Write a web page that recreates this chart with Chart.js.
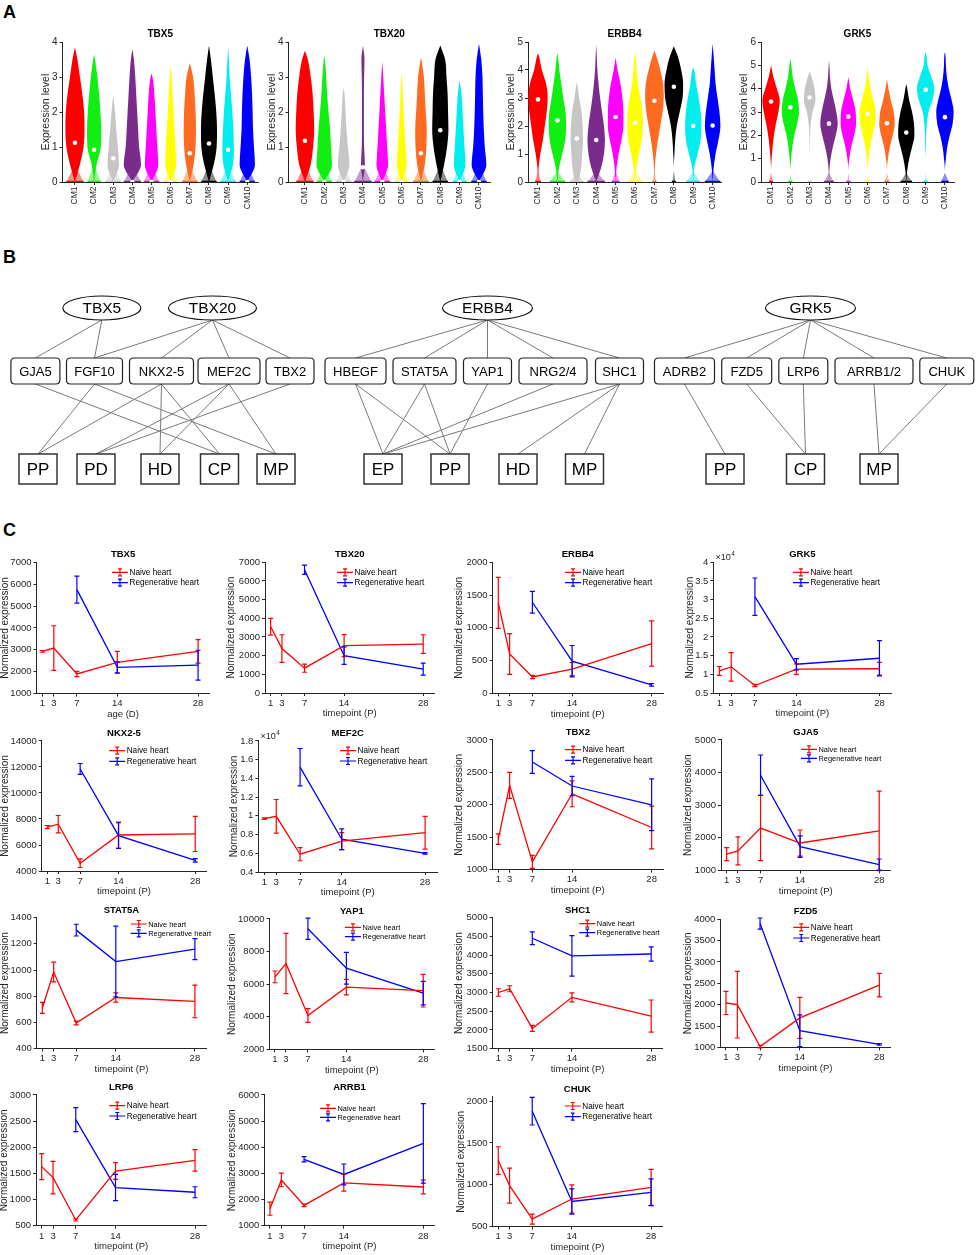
<!DOCTYPE html>
<html>
<head>
<meta charset="utf-8">
<script src="https://cdn.jsdelivr.net/npm/chart.js@4.4.1/dist/chart.umd.min.js"></script>
<style>
  body { margin: 0; background: #fff; }
  #fig { position: relative; width: 976px; height: 1255px; overflow: hidden; font-family: "Liberation Sans", Arial, sans-serif; }
  .panel { position: absolute; font-weight: bold; font-size: 18px; line-height: 18px; color: #000; }
  canvas { position: absolute; }
</style>
</head>
<body>
<div id="fig">
  <div class="panel" style="left:3px;top:3px">A</div>
  <div class="panel" style="left:3px;top:248px">B</div>
  <div class="panel" style="left:3px;top:521px">C</div>
</div>
<script>
// ---------- Panel A: violin profiles (half-width per 0.5 step of expression) ----------
const clusters = ['CM1', 'CM2', 'CM3', 'CM4', 'CM5', 'CM6', 'CM7', 'CM8', 'CM9', 'CM10'];
const violinStep = 0.5;

const tbx5Top = [3.85, 3.65, 2.5, 3.8, 3.1, 3.35, 3.4, 3.9, 3.85, 3.9];
const tbx5Median = [1.12, 0.92, 0.68, 0, 0, 0, 0.82, 1.1, 0.92, 0];
const tbx5Base = [0.45, 0.35, 0.4, 0.45, 0.4, 0.35, 0.4, 0.4, 0.4, 0.4];
const tbx5Width = [
  [0, 0.26, 0.45, 0.5, 0.48, 0.39, 0.26, 0.13],
  [0, 0.13, 0.35, 0.37, 0.33, 0.26, 0.17, 0.05],
  [0, 0.3, 0.24, 0.16, 0.09],
  [0, 0.45, 0.35, 0.3, 0.25, 0.2, 0.15, 0.08],
  [0, 0.35, 0.3, 0.25, 0.2, 0.15, 0.05],
  [0, 0.28, 0.25, 0.2, 0.15, 0.1, 0.05],
  [0, 0.2, 0.3, 0.32, 0.3, 0.25, 0.17],
  [0, 0.25, 0.4, 0.42, 0.38, 0.3, 0.2, 0.1],
  [0, 0.25, 0.3, 0.27, 0.22, 0.15, 0.08, 0.04],
  [0, 0.4, 0.35, 0.3, 0.28, 0.25, 0.2, 0.12]
];

const tbx20Top = [3.75, 3.6, 2.7, 3.9, 3.45, 3.1, 3.55, 3.9, 2.9, 3.95];
const tbx20Median = [1.18, 0, 0, 0.42, 0, 0, 0.82, 1.48, 0, 0];
const tbx20Base = [0.45, 0.4, 0.4, 0.45, 0.4, 0.35, 0.4, 0.4, 0.35, 0.4];
const tbx20Width = [
  [0, 0.3, 0.42, 0.48, 0.45, 0.4, 0.3, 0.15],
  [0, 0.4, 0.35, 0.3, 0.22, 0.15, 0.1, 0.03],
  [0, 0.3, 0.22, 0.15, 0.1, 0.05],
  [0, 0.1, 0.06, 0.05, 0.05, 0.05, 0.06, 0.08],
  [0, 0.3, 0.25, 0.2, 0.15, 0.1, 0.05],
  [0, 0.25, 0.2, 0.15, 0.1, 0.06, 0.02],
  [0, 0.2, 0.28, 0.3, 0.25, 0.2, 0.15, 0.02],
  [0, 0.2, 0.35, 0.42, 0.4, 0.38, 0.32, 0.25],
  [0, 0.3, 0.25, 0.2, 0.15, 0.1],
  [0, 0.38, 0.3, 0.25, 0.22, 0.2, 0.18, 0.12]
];

const erbb4Top = [4.6, 4.6, 3.55, 4.9, 4.45, 4.6, 4.7, 4.85, 4.1, 4.95];
const erbb4Median = [2.95, 2.2, 1.55, 1.5, 2.32, 2.12, 2.9, 3.4, 2.0, 2.02];
const erbb4Base = [0.15, 0.4, 0.35, 0.45, 0.2, 0.38, 0.1, 0.08, 0.35, 0.4];
const erbb4Width = [
  [0, 0.03, 0.12, 0.25, 0.35, 0.45, 0.5, 0.42, 0.2, 0.05],
  [0, 0.08, 0.25, 0.4, 0.45, 0.42, 0.3, 0.2, 0.1, 0.03],
  [0.1, 0.22, 0.28, 0.32, 0.3, 0.25, 0.12, 0.02],
  [0, 0.25, 0.4, 0.45, 0.4, 0.3, 0.2, 0.12, 0.06, 0.03],
  [0, 0.05, 0.15, 0.3, 0.4, 0.4, 0.35, 0.25, 0.1],
  [0, 0.07, 0.2, 0.35, 0.4, 0.38, 0.28, 0.15, 0.08, 0.03],
  [0, 0.02, 0.08, 0.18, 0.3, 0.42, 0.48, 0.45, 0.3, 0.1],
  [0, 0, 0.03, 0.07, 0.15, 0.3, 0.45, 0.48, 0.38, 0.2],
  [0, 0.05, 0.22, 0.38, 0.42, 0.38, 0.28, 0.15, 0.05],
  [0, 0.05, 0.15, 0.3, 0.4, 0.35, 0.25, 0.15, 0.1, 0.05]
];

const grk5Top = [5.0, 5.3, 4.75, 5.2, 4.5, 5.0, 4.4, 4.2, 5.55, 5.55];
const grk5Median = [3.45, 3.2, 3.62, 2.5, 2.8, 2.92, 2.52, 2.12, 3.95, 2.78];
const grk5Base = [0.1, 0.05, 0, 0.25, 0.05, 0.05, 0.12, 0.3, 0.05, 0.2];
const grk5Width = [
  [0, 0, 0.03, 0.08, 0.15, 0.25, 0.38, 0.45, 0.3, 0.12],
  [0, 0, 0.04, 0.1, 0.2, 0.35, 0.45, 0.4, 0.25, 0.12, 0.05],
  [0, 0, 0, 0.01, 0.02, 0.05, 0.15, 0.3, 0.25, 0.1],
  [0, 0.02, 0.08, 0.2, 0.35, 0.45, 0.38, 0.25, 0.12, 0.05, 0.02],
  [0, 0, 0.05, 0.15, 0.3, 0.4, 0.38, 0.25, 0.1],
  [0, 0, 0.05, 0.12, 0.25, 0.38, 0.42, 0.3, 0.15, 0.05],
  [0, 0, 0.05, 0.15, 0.3, 0.4, 0.35, 0.2, 0.08],
  [0, 0.05, 0.15, 0.3, 0.42, 0.4, 0.3, 0.15, 0.05],
  [0, 0, 0, 0.02, 0.03, 0.07, 0.15, 0.35, 0.45, 0.3, 0.1, 0.03],
  [0, 0, 0.05, 0.12, 0.25, 0.4, 0.45, 0.35, 0.2, 0.1, 0.05, 0.02]
];

// ---------- Panel B: network ----------
const regulators = ['TBX5', 'TBX20', 'ERBB4', 'GRK5'];
const targets = ['GJA5', 'FGF10', 'NKX2-5', 'MEF2C', 'TBX2', 'HBEGF', 'STAT5A', 'YAP1', 'NRG2/4', 'SHC1',
  'ADRB2', 'FZD5', 'LRP6', 'ARRB1/2', 'CHUK'];
const processes = ['PP', 'PD', 'HD', 'CP', 'MP', 'EP', 'PP', 'HD', 'MP', 'PP', 'CP', 'MP'];
// [regulator, target]
const regulatorLinks = [[0, 0], [0, 1], [1, 1], [1, 2], [1, 3], [1, 4],
  [2, 5], [2, 6], [2, 7], [2, 8], [2, 9],
  [3, 10], [3, 11], [3, 12], [3, 13], [3, 14]];
// [target, process]
const processLinks = [[0, 3], [1, 0], [1, 4], [2, 0], [2, 2], [2, 3], [3, 1], [3, 2], [3, 4], [4, 1],
  [5, 5], [5, 6], [6, 5], [6, 6], [7, 6], [8, 5], [9, 5], [9, 7], [9, 8],
  [10, 9], [11, 10], [12, 10], [13, 11], [14, 11]];

// ---------- Panel C: normalized expression (mean and error) ----------
const naiveDays = [1, 3, 7, 14, 28];
const regenDays = [7, 14, 28];
const dayTicks = [1, 3, 7, 14, 28];

const tbx5Naive = [2930, 3080, 1900, 2430, 2930];
const tbx5NaiveErr = [40, 1020, 120, 500, 540];
const tbx5Regen = [5750, 2200, 2300];
const tbx5RegenErr = [620, 250, 680];
const tbx5YTicks = [1000, 2000, 3000, 4000, 5000, 6000, 7000];

const tbx20Naive = [3550, 2380, 1330, 2540, 2620];
const tbx20NaiveErr = [450, 740, 220, 590, 500];
const tbx20Regen = [6600, 2000, 1280];
const tbx20RegenErr = [250, 470, 320];
const tbx20YTicks = [0, 1000, 2000, 3000, 4000, 5000, 6000, 7000];

const erbb4Naive = [1380, 600, 250, 370, 760];
const erbb4NaiveErr = [390, 310, 25, 100, 345];
const erbb4Regen = [1390, 490, 130];
const erbb4RegenErr = [165, 240, 20];
const erbb4YTicks = [0, 500, 1000, 1500, 2000];

const grk5Naive = [10900, 12000, 7000, 11400, 11500];
const grk5NaiveErr = [1200, 3800, 300, 1400, 1700];
const grk5Regen = [30800, 12700, 14300];
const grk5RegenErr = [5000, 1500, 4700];
const grk5YTicks = [5000, 10000, 15000, 20000, 25000, 30000, 35000, 40000];

const nkx25Naive = [7380, 7600, 4600, 6770, 6850];
const nkx25NaiveErr = [120, 670, 330, 1000, 1350];
const nkx25Regen = [11850, 6720, 4820];
const nkx25RegenErr = [420, 990, 130];
const nkx25YTicks = [4000, 6000, 8000, 10000, 12000, 14000];

const mef2cNaive = [9700, 9950, 5900, 7300, 8200];
const mef2cNaiveErr = [80, 1800, 700, 900, 1750];
const mef2cRegen = [15200, 7500, 6000];
const mef2cRegenErr = [2000, 1100, 80];
const mef2cYTicks = [4000, 6000, 8000, 10000, 12000, 14000, 16000, 18000];

const tbx2Naive = [1470, 2300, 1120, 2170, 1650];
const tbx2NaiveErr = [80, 200, 100, 200, 330];
const tbx2Regen = [2660, 2290, 2000];
const tbx2RegenErr = [175, 150, 400];
const tbx2YTicks = [1000, 1500, 2000, 2500, 3000];

const gja5Naive = [1500, 1600, 2300, 1840, 2210];
const gja5NaiveErr = [200, 430, 1000, 400, 1220];
const gja5Regen = [3920, 1730, 1180];
const gja5RegenErr = [620, 330, 170];
const gja5YTicks = [1000, 2000, 3000, 4000, 5000];

const stat5aNaive = [710, 985, 595, 790, 760];
const stat5aNaiveErr = [42, 75, 15, 35, 125];
const stat5aRegen = [1305, 1065, 1160];
const stat5aRegenErr = [45, 270, 80];
const stat5aYTicks = [400, 600, 800, 1000, 1200, 1400];

const yap1Naive = [6450, 7270, 4080, 5820, 5600];
const yap1NaiveErr = [360, 1850, 420, 480, 1000];
const yap1Regen = [9400, 6980, 5450];
const yap1RegenErr = [650, 970, 720];
const yap1YTicks = [2000, 4000, 6000, 8000, 10000];

const shc1Naive = [3000, 3100, 2040, 2870, 2370];
const shc1NaiveErr = [100, 80, 80, 120, 430];
const shc1Regen = [4450, 3980, 4030];
const shc1RegenErr = [170, 540, 190];
const shc1YTicks = [1500, 2000, 2500, 3000, 3500, 4000, 4500, 5000];

const fzd5Naive = [2040, 2000, 1020, 1690, 2460];
const fzd5NaiveErr = [270, 780, 30, 480, 275];
const fzd5Regen = [3900, 1390, 1070];
const fzd5RegenErr = [130, 370, 20];
const fzd5YTicks = [1000, 1500, 2000, 2500, 3000, 3500, 4000];

const lrp6Naive = [1630, 1420, 610, 1545, 1750];
const lrp6NaiveErr = [250, 310, 20, 160, 205];
const lrp6Regen = [2530, 1230, 1140];
const lrp6RegenErr = [230, 250, 105];
const lrp6YTicks = [500, 1000, 1500, 2000, 2500, 3000];

const arrb1Naive = [1650, 2750, 1780, 2640, 2480];
const arrb1NaiveErr = [250, 260, 50, 320, 260];
const arrb1Regen = [3540, 2960, 4150];
const arrb1RegenErr = [100, 400, 1520];
const arrb1YTicks = [1000, 2000, 3000, 4000, 5000, 6000];

const chukNaive = [1290, 990, 590, 830, 970];
const chukNaiveErr = [165, 210, 60, 170, 215];
const chukRegen = [1880, 800, 910];
const chukRegenErr = [165, 150, 160];
const chukYTicks = [500, 1000, 1500, 2000];

// ---------- styles and layout ----------
const violinColors = ['#ff0000', '#11ee11', '#c6c6c6', '#7a2c8c', '#ff00ff', '#ffff00', '#ff6a21', '#000000', '#00eeee', '#0000ff'];
const violinLight = violinColors.map(c => {
  const n = parseInt(c.slice(1), 16);
  return `rgba(${n >> 16},${(n >> 8) & 255},${n & 255},0.45)`;
});
const naiveColor = '#ff0000';
const regenColor = '#0000ff';
const axisColor = '#262626';
const FONT = '"Liberation Sans", Arial, sans-serif';

Chart.defaults.font.family = FONT;
Chart.defaults.color = axisColor;
Chart.defaults.animation = false;
Chart.defaults.events = [];
Chart.defaults.plugins.legend.display = false;
Chart.defaults.plugins.tooltip.enabled = false;

const FIG = document.getElementById('fig');

function makeCanvas(left, top, width, height) {
  const c = document.createElement('canvas');
  c.width = width;
  c.height = height;
  c.style.left = left + 'px';
  c.style.top = top + 'px';
  c.style.width = width + 'px';
  c.style.height = height + 'px';
  FIG.appendChild(c);
  return c;
}

// places a canvas so that the plot area lands on box = [left, top, right, bottom, yTitleOffset]
function frame(box, f) {
  const [l, t, r, b, yOff] = box;
  const tLH = f.titleSize * 1.2, yLH = f.yTitleSize * 1.2, xLH = f.xTitleSize * 1.2;
  const left = Math.floor(l - yOff - yLH / 2 - 2);
  const top = Math.floor(t - f.titleOff - tLH / 2 - 2);
  const right = Math.ceil(r + f.right);
  const bottom = Math.ceil(b + f.bottom);
  return {
    canvas: makeCanvas(left, top, right - left, bottom - top),
    padding: {left: 0, top: 0, right: right - r, bottom: 0},
    titlePad: {top: t - f.titleOff - tLH / 2 - top, bottom: f.titleOff - tLH / 2},
    yWidth: l - left,
    yTitlePad: {top: l - yOff - yLH / 2 - left, bottom: 0},
    xHeight: bottom - b,
    xTitlePad: {top: 0, bottom: bottom - b - f.xTitleOff - xLH / 2}
  };
}

function axisStyle(size) {
  return {
    grid: {drawOnChartArea: false, drawTicks: true, tickLength: 3, color: axisColor, lineWidth: 1},
    border: {display: true, color: axisColor, width: 1},
    ticks: {font: {size}, color: axisColor, padding: 1.5}
  };
}

// ---------- Panel A ----------
const violinFrame = {titleSize: 10, titleOff: 8, yTitleSize: 10.5, xTitleSize: 10, xTitleOff: 0, right: 14, bottom: 30};
const violinBoxes = [
  [62.5, 42, 258, 182, 16.5],
  [288.5, 42, 490, 182, 16.5],
  [528, 42, 721, 182, 16.5],
  [761, 42, 954, 182, 17]
];
const violinRanges = [[0.35, 10.56], [0.15, 10.57], [0.485, 10.43], [0.48, 10.47]];

function violinChart(idx, name, yMax, baseTop, top, width, base, median) {
  const box = violinBoxes[idx], range = violinRanges[idx];
  const f = frame(box, violinFrame);
  const unitPx = (box[2] - box[0]) / (range[1] - range[0]);
  const edgeStyle = {borderWidth: 0, borderColor: 'rgba(0,0,0,0)', pointRadius: 0, cubicInterpolationMode: 'monotone'};
  const datasets = [
    {data: median.map((m, i) => ({x: i + 1, y: m})), showLine: false,
      pointRadius: 2.3, pointBackgroundColor: '#fff', pointBorderWidth: 0},
    {data: base.map((w, i) => ({x: i + 1, y: 0})), showLine: false, pointStyle: 'line',
      pointRadius: base.map(w => Math.max(w * unitPx, 2)), pointBorderColor: violinColors, pointBorderWidth: 2.5}
  ];
  width.forEach((w, i) => {
    const pts = w.map((hw, k) => [k * violinStep, hw]).filter(p => p[0] < top[i]);
    const edge = s => pts.map(([y, hw]) => ({x: i + 1 + s * hw, y})).concat({x: i + 1, y: top[i]});
    datasets.push({data: edge(-1), fill: false, backgroundColor: violinColors[i], ...edgeStyle});
    datasets.push({data: edge(1), fill: '-1', backgroundColor: violinColors[i], ...edgeStyle});
  });
  base.forEach((w, i) => {
    const edge = s => [{x: i + 1 + s * w, y: 0}, {x: i + 1, y: baseTop}];
    datasets.push({data: edge(-1), fill: false, backgroundColor: violinLight[i], ...edgeStyle, cubicInterpolationMode: 'default', tension: 0});
    datasets.push({data: edge(1), fill: '-1', backgroundColor: violinLight[i], ...edgeStyle, cubicInterpolationMode: 'default', tension: 0});
  });
  const xs = axisStyle(8.5), ys = axisStyle(10);
  new Chart(f.canvas, {
    type: 'line',
    data: {datasets},
    options: {
      responsive: false,
      indexAxis: 'y',
      layout: {padding: f.padding},
      elements: {point: {hoverRadius: 0, hitRadius: 0}},
      plugins: {
        title: {display: true, text: name, fullSize: false, color: '#000',
          font: {size: 10, weight: 'bold'}, padding: f.titlePad}
      },
      scales: {
        x: {
          type: 'linear', position: 'bottom', min: range[0], max: range[1],
          afterBuildTicks: s => { s.ticks = clusters.map((c, i) => ({value: i + 1})); },
          ...xs,
          ticks: {...xs.ticks, autoSkip: false, minRotation: 90, maxRotation: 90,
            callback: v => clusters[v - 1]},
          afterFit: s => { s.height = f.xHeight; }
        },
        y: {
          type: 'linear', min: 0, max: yMax,
          ...ys,
          ticks: {...ys.ticks, stepSize: 1, padding: 2, callback: v => String(v)},
          title: {display: true, text: 'Expression level', color: axisColor, font: {size: 10.5}, padding: f.yTitlePad},
          afterFit: s => { s.width = f.yWidth; }
        }
      }
    }
  });
}

violinChart(0, 'TBX5', 4, 0.5, tbx5Top, tbx5Width, tbx5Base, tbx5Median);
violinChart(1, 'TBX20', 4, 0.5, tbx20Top, tbx20Width, tbx20Base, tbx20Median);
violinChart(2, 'ERBB4', 5, 0.4, erbb4Top, erbb4Width, erbb4Base, erbb4Median);
violinChart(3, 'GRK5', 6, 0.4, grk5Top, grk5Width, grk5Base, grk5Median);

// ---------- Panel B ----------
const net = {
  regX: [101.8, 212.5, 487.5, 810.5], regRx: [39, 44, 45, 45], regY: 308, regRy: 12,
  tgtX: [35.4, 94.5, 161.5, 229, 290, 355.5, 424.5, 487.5, 553, 619.5, 684.5, 746.7, 803.3, 874, 946.8],
  tgtW: [49, 56, 64, 62, 48, 61, 63, 48, 68, 48, 60, 50, 49, 78, 54], tgtY: 371, tgtH: 26,
  procX: [38, 96, 160, 219.5, 276, 383, 450, 518, 584.5, 725, 805.5, 879], procW: 38, procY: 469, procH: 30
};

const edgeSets = [];
regulatorLinks.forEach(([r, t]) => edgeSets.push({
  data: [{x: net.regX[r], y: net.regY + net.regRy}, {x: net.tgtX[t], y: net.tgtY - net.tgtH / 2}]
}));
processLinks.forEach(([t, p]) => edgeSets.push({
  data: [{x: net.tgtX[t], y: net.tgtY + net.tgtH / 2}, {x: net.procX[p], y: net.procY - net.procH / 2}]
}));
edgeSets.forEach(d => Object.assign(d, {showLine: true, borderColor: '#7a7a7a', borderWidth: 1, pointRadius: 0}));

const networkNodes = {
  id: 'networkNodes',
  afterDatasetsDraw(chart) {
    const {ctx, scales: {x, y}} = chart;
    const px = v => x.getPixelForValue(v), py = v => y.getPixelForValue(v);
    const label = (text, cx, cy, size) => {
      ctx.fillStyle = '#000';
      ctx.font = `${size}px ${FONT}`;
      ctx.fillText(text, cx, cy + 1);
    };
    ctx.save();
    ctx.textAlign = 'center';
    ctx.textBaseline = 'middle';
    regulators.forEach((name, i) => {
      const cx = px(net.regX[i]), cy = py(net.regY);
      ctx.beginPath();
      ctx.ellipse(cx, cy, px(net.regX[i] + net.regRx[i]) - cx, Math.abs(py(net.regY + net.regRy) - cy), 0, 0, Math.PI * 2);
      ctx.fillStyle = '#fff'; ctx.fill();
      ctx.strokeStyle = '#111'; ctx.lineWidth = 1.2; ctx.stroke();
      label(name, cx, cy, 15.5);
    });
    targets.forEach((name, i) => {
      const x0 = px(net.tgtX[i] - net.tgtW[i] / 2), x1 = px(net.tgtX[i] + net.tgtW[i] / 2);
      const y0 = py(net.tgtY - net.tgtH / 2), y1 = py(net.tgtY + net.tgtH / 2), rr = 4;
      ctx.beginPath();
      ctx.moveTo(x0 + rr, y0); ctx.lineTo(x1 - rr, y0); ctx.quadraticCurveTo(x1, y0, x1, y0 + rr);
      ctx.lineTo(x1, y1 - rr); ctx.quadraticCurveTo(x1, y1, x1 - rr, y1);
      ctx.lineTo(x0 + rr, y1); ctx.quadraticCurveTo(x0, y1, x0, y1 - rr);
      ctx.lineTo(x0, y0 + rr); ctx.quadraticCurveTo(x0, y0, x0 + rr, y0);
      ctx.closePath();
      ctx.fillStyle = '#fff'; ctx.fill();
      ctx.strokeStyle = '#222'; ctx.lineWidth = 1.2; ctx.stroke();
      label(name, (x0 + x1) / 2, (y0 + y1) / 2, 13);
    });
    processes.forEach((name, i) => {
      const x0 = px(net.procX[i] - net.procW / 2), x1 = px(net.procX[i] + net.procW / 2);
      const y0 = py(net.procY - net.procH / 2), y1 = py(net.procY + net.procH / 2);
      ctx.fillStyle = '#fff'; ctx.fillRect(x0, y0, x1 - x0, y1 - y0);
      ctx.strokeStyle = '#333'; ctx.lineWidth = 1.5; ctx.strokeRect(x0, y0, x1 - x0, y1 - y0);
      label(name, (x0 + x1) / 2, (y0 + y1) / 2, 17);
    });
    ctx.restore();
  }
};

new Chart(makeCanvas(0, 280, 976, 215), {
  type: 'scatter',
  data: {datasets: edgeSets},
  options: {
    responsive: false,
    layout: {padding: 0},
    elements: {point: {radius: 0, hoverRadius: 0, hitRadius: 0}},
    scales: {
      x: {type: 'linear', display: false, min: 0, max: 976},
      y: {type: 'linear', display: false, min: 280, max: 495, reverse: true}
    }
  },
  plugins: [networkNodes]
});

// ---------- Panel C ----------
const errorBars = {
  id: 'errorBars',
  afterDatasetsDraw(chart) {
    const {ctx, scales: {x, y}} = chart;
    chart.data.datasets.forEach(ds => {
      ctx.save();
      ctx.strokeStyle = ds.borderColor;
      ctx.lineWidth = 1.2;
      ds.data.forEach((p, k) => {
        const cx = x.getPixelForValue(p.x);
        const hi = y.getPixelForValue(p.y + ds.errors[k]);
        const lo = y.getPixelForValue(p.y - ds.errors[k]);
        ctx.beginPath();
        ctx.moveTo(cx, hi); ctx.lineTo(cx, lo);
        ctx.moveTo(cx - 2.5, hi); ctx.lineTo(cx + 2.5, hi);
        ctx.moveTo(cx - 2.5, lo); ctx.lineTo(cx + 2.5, lo);
        ctx.stroke();
      });
      ctx.restore();
    });
  }
};

const inlineLegend = {
  id: 'inlineLegend',
  afterDraw(chart, args, o) {
    const {ctx, chartArea: a} = chart;
    const x0 = a.left + o.fx * (a.right - a.left);
    ctx.save();
    ctx.font = `${o.size}px ${FONT}`;
    ctx.textBaseline = 'middle';
    ctx.textAlign = 'left';
    chart.data.datasets.forEach((ds, i) => {
      const yy = a.top + o.dy + i * o.gap;
      ctx.strokeStyle = ds.borderColor;
      ctx.lineWidth = 1.2;
      ctx.beginPath();
      ctx.moveTo(x0, yy); ctx.lineTo(x0 + 16, yy);
      ctx.moveTo(x0 + 8, yy - 3.5); ctx.lineTo(x0 + 8, yy + 3.5);
      ctx.moveTo(x0 + 6, yy - 3.5); ctx.lineTo(x0 + 10, yy - 3.5);
      ctx.moveTo(x0 + 6, yy + 3.5); ctx.lineTo(x0 + 10, yy + 3.5);
      ctx.stroke();
      ctx.fillStyle = '#000';
      ctx.fillText(ds.label, x0 + 17.5, yy + 0.5);
    });
    if (o.exponent) {
      ctx.fillStyle = axisColor;
      ctx.textBaseline = 'alphabetic';
      ctx.font = `9px ${FONT}`;
      ctx.fillText('\u00d710', a.left + 2, a.top - 2);
      const w = ctx.measureText('\u00d710').width;
      ctx.font = `6.5px ${FONT}`;
      ctx.fillText(String(o.exponent), a.left + 2 + w + 0.5, a.top - 6);
    }
    ctx.restore();
  }
};

const lineCharts = [
  {name: 'TBX5', xTitle: 'age (D)', naive: tbx5Naive, naiveErr: tbx5NaiveErr, regen: tbx5Regen, regenErr: tbx5RegenErr, yTicks: tbx5YTicks},
  {name: 'TBX20', xTitle: 'timepoint (P)', naive: tbx20Naive, naiveErr: tbx20NaiveErr, regen: tbx20Regen, regenErr: tbx20RegenErr, yTicks: tbx20YTicks},
  {name: 'ERBB4', xTitle: 'timepoint (P)', naive: erbb4Naive, naiveErr: erbb4NaiveErr, regen: erbb4Regen, regenErr: erbb4RegenErr, yTicks: erbb4YTicks},
  {name: 'GRK5', xTitle: 'timepoint (P)', naive: grk5Naive, naiveErr: grk5NaiveErr, regen: grk5Regen, regenErr: grk5RegenErr, yTicks: grk5YTicks, exponent: 4},
  {name: 'NKX2-5', xTitle: 'timepoint (P)', naive: nkx25Naive, naiveErr: nkx25NaiveErr, regen: nkx25Regen, regenErr: nkx25RegenErr, yTicks: nkx25YTicks},
  {name: 'MEF2C', xTitle: 'timepoint (P)', naive: mef2cNaive, naiveErr: mef2cNaiveErr, regen: mef2cRegen, regenErr: mef2cRegenErr, yTicks: mef2cYTicks, exponent: 4},
  {name: 'TBX2', xTitle: 'timepoint (P)', naive: tbx2Naive, naiveErr: tbx2NaiveErr, regen: tbx2Regen, regenErr: tbx2RegenErr, yTicks: tbx2YTicks},
  {name: 'GJA5', xTitle: 'timepoint (P)', naive: gja5Naive, naiveErr: gja5NaiveErr, regen: gja5Regen, regenErr: gja5RegenErr, yTicks: gja5YTicks},
  {name: 'STAT5A', xTitle: 'timepoint (P)', naive: stat5aNaive, naiveErr: stat5aNaiveErr, regen: stat5aRegen, regenErr: stat5aRegenErr, yTicks: stat5aYTicks},
  {name: 'YAP1', xTitle: 'timepoint (P)', naive: yap1Naive, naiveErr: yap1NaiveErr, regen: yap1Regen, regenErr: yap1RegenErr, yTicks: yap1YTicks},
  {name: 'SHC1', xTitle: 'timepoint (P)', naive: shc1Naive, naiveErr: shc1NaiveErr, regen: shc1Regen, regenErr: shc1RegenErr, yTicks: shc1YTicks},
  {name: 'FZD5', xTitle: 'timepoint (P)', naive: fzd5Naive, naiveErr: fzd5NaiveErr, regen: fzd5Regen, regenErr: fzd5RegenErr, yTicks: fzd5YTicks},
  {name: 'LRP6', xTitle: 'timepoint (P)', naive: lrp6Naive, naiveErr: lrp6NaiveErr, regen: lrp6Regen, regenErr: lrp6RegenErr, yTicks: lrp6YTicks},
  {name: 'ARRB1', xTitle: 'timepoint (P)', naive: arrb1Naive, naiveErr: arrb1NaiveErr, regen: arrb1Regen, regenErr: arrb1RegenErr, yTicks: arrb1YTicks},
  {name: 'CHUK', xTitle: 'timepoint (P)', naive: chukNaive, naiveErr: chukNaiveErr, regen: chukRegen, regenErr: chukRegenErr, yTicks: chukYTicks, yMax: 2050}
];

const lineFrame = {titleSize: 9.5, titleOff: 7.5, yTitleSize: 10, xTitleSize: 9.5, xTitleOff: 20.8, right: 10, bottom: 28};
// plot area [left, top, right, bottom, y-title offset]
const lineBoxes = [
  [36.5, 562.3, 209.6, 693.6, 31.5], [265, 562.3, 434.5, 693, 33.5], [492.6, 562.3, 663, 693.3, 33], [713.4, 562.3, 891.3, 693, 23],
  [41.8, 741, 206.2, 871, 36.5], [258.4, 741, 437, 872, 24], [492.6, 740, 663, 869.6, 33], [721, 740, 890.5, 870.4, 33],
  [36.7, 917.7, 206.2, 1048.5, 31.5], [269.5, 919, 434.2, 1049.4, 37.5], [492.7, 917.7, 662.5, 1048.6, 33], [720.3, 919.3, 890.7, 1047.4, 32.5],
  [36, 1095, 206.4, 1225.7, 31.5], [264.3, 1095, 434.7, 1225.7, 32.5], [492.6, 1097, 662.4, 1226.6, 31.5]
];
// legend placement [fraction of width, first row offset, row gap, font size]
const legendSpots = [
  [0.436, 10, 10.4, 8.2], [0.425, 10, 10.4, 8.2], [0.425, 10, 10.4, 8.2], [0.447, 10, 10.4, 8.2],
  [0.41, 9.7, 10.6, 8.2], [0.457, 9.7, 10.3, 8.2], [0.425, 9.7, 10.7, 8.2], [0.472, 9.3, 9, 7.4],
  [0.555, 6.3, 9.3, 7.4], [0.458, 8.3, 9.3, 7.4], [0.51, 6, 9, 7.4], [0.428, 8, 10.7, 8.2],
  [0.43, 10.7, 10.3, 8.2], [0.327, 13.3, 9, 7.4], [0.425, 9, 10.7, 8.2]
];

function lineChart(spec, box, leg) {
  const f = frame(box, lineFrame);
  const yMin = spec.yTicks[0];
  const yMax = spec.yMax || spec.yTicks[spec.yTicks.length - 1];
  const xs = axisStyle(9.5), ys = axisStyle(9.5);
  const fmt = v => spec.exponent ? String(parseFloat((v / Math.pow(10, spec.exponent)).toFixed(3))) : String(v);
  new Chart(f.canvas, {
    type: 'line',
    data: {datasets: [
      {label: 'Naive heart', data: naiveDays.map((d, i) => ({x: d, y: spec.naive[i]})), errors: spec.naiveErr, borderColor: naiveColor},
      {label: 'Regenerative heart', data: regenDays.map((d, i) => ({x: d, y: spec.regen[i]})), errors: spec.regenErr, borderColor: regenColor}
    ]},
    options: {
      responsive: false,
      layout: {padding: f.padding},
      elements: {
        point: {radius: 0, hoverRadius: 0, hitRadius: 0},
        line: {borderWidth: 1.3, tension: 0, fill: false}
      },
      plugins: {
        title: {display: true, text: spec.name, fullSize: false, color: '#000',
          font: {size: 9.5, weight: 'bold'}, padding: f.titlePad},
        inlineLegend: {fx: leg[0], dy: leg[1], gap: leg[2], size: leg[3], exponent: spec.exponent}
      },
      scales: {
        x: {
          type: 'linear', min: 0, max: 30,
          afterBuildTicks: s => { s.ticks = dayTicks.map(v => ({value: v})); },
          ...xs,
          ticks: {...xs.ticks, autoSkip: false, maxRotation: 0, callback: v => String(v)},
          title: {display: true, text: spec.xTitle, color: axisColor, font: {size: 9.5}, padding: f.xTitlePad},
          afterFit: s => { s.height = f.xHeight; }
        },
        y: {
          type: 'linear', min: yMin, max: yMax,
          afterBuildTicks: s => { s.ticks = spec.yTicks.map(v => ({value: v})); },
          ...ys,
          ticks: {...ys.ticks, padding: 2, callback: fmt},
          title: {display: true, text: 'Normalized expression', color: axisColor, font: {size: 10}, padding: f.yTitlePad},
          afterFit: s => { s.width = f.yWidth; }
        }
      }
    },
    plugins: [errorBars, inlineLegend]
  });
}

lineCharts.forEach((spec, i) => lineChart(spec, lineBoxes[i], legendSpots[i]));
</script>
</body>
</html>
